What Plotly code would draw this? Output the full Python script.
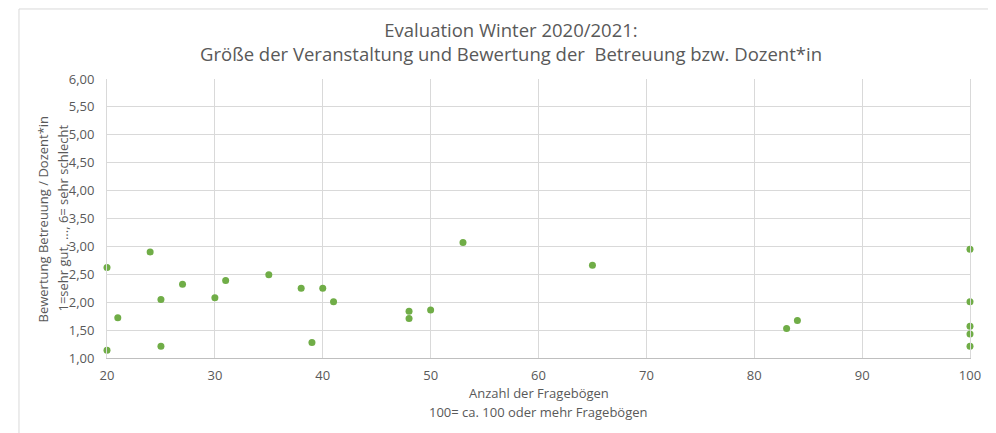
import plotly.graph_objects as go

# Anzahl der Fragebögen je Veranstaltung (100 = ca. 100 oder mehr)
anzahl_frageboegen = [20, 20, 21, 24, 25, 25, 27, 30, 31, 35, 38, 39, 40, 41,
                      48, 48, 50, 53, 65, 83, 84, 100, 100, 100, 100, 100]
# Bewertung Betreuung / Dozent*in (1 = sehr gut ... 6 = sehr schlecht)
bewertung = [2.62, 1.14, 1.72, 2.90, 2.05, 1.21, 2.32, 2.08, 2.39, 2.49, 2.25, 1.28,
             2.25, 2.01, 1.84, 1.71, 1.86, 3.07, 2.66, 1.53, 1.67, 2.95, 2.01,
             1.57, 1.43, 1.21]

x_ticks = [20, 30, 40, 50, 60, 70, 80, 90, 100]
y_ticks = [1.0, 1.5, 2.0, 2.5, 3.0, 3.5, 4.0, 4.5, 5.0, 5.5, 6.0]

title_text = ("Evaluation Winter 2020/2021:<br>"
              "Größe der Veranstaltung und Bewertung der  Betreuung bzw. Dozent*in")
x_title_lines = ["Anzahl der Fragebögen", "100= ca. 100 oder mehr Fragebögen"]
y_title_lines = ["Bewertung Betreuung / Dozent*in", "1=sehr gut, ..., 6= sehr schlecht"]

GRID = "#d9d9d9"
TEXT = "#595959"
FONT = "Open Sans"

fig = go.Figure()

fig.add_trace(
    go.Scatter(
        x=anzahl_frageboegen,
        y=bewertung,
        mode="markers",
        marker=dict(color="#70ad47", size=7),
        cliponaxis=False,
        showlegend=False,
        hovertemplate="%{x}: %{y:.2f}<extra></extra>",
    )
)

annotations = [
    dict(text=title_text, xref="paper", yref="paper", x=0.468, y=1.136,
         xanchor="center", yanchor="middle", showarrow=False,
         font=dict(size=18.5, color=TEXT)),
]
# axis titles, one annotation per line to get the wider line spacing
for line, ypos in zip(x_title_lines, [-0.1254, -0.1935]):
    annotations.append(dict(text=line, xref="paper", yref="paper", x=0.5, y=ypos,
                            xanchor="center", yanchor="middle", showarrow=False,
                            font=dict(size=13, color=TEXT)))
for line, xpos in zip(y_title_lines, [-0.0742, -0.0521]):
    annotations.append(dict(text=line, xref="paper", yref="paper", x=xpos, y=0.5,
                            xanchor="center", yanchor="middle", textangle=-90,
                            showarrow=False, font=dict(size=13, color=TEXT)))

# the page body adds an 8px offset, margins are chosen to compensate
fig.update_layout(
    width=996,
    height=433,
    margin=dict(l=99, r=34, t=71, b=83),
    paper_bgcolor="white",
    plot_bgcolor="white",
    separators=", ",
    font=dict(family=FONT, color=TEXT, size=13),
    xaxis=dict(
        range=[20, 100],
        tickvals=x_ticks,
        showgrid=True,
        gridcolor=GRID,
        showline=True,
        linecolor="#bfbfbf",
        zeroline=False,
        ticks="",
        ticklabelstandoff=5,
        tickfont=dict(size=13, color=TEXT),
    ),
    yaxis=dict(
        range=[1, 6],
        tickvals=y_ticks,
        tickformat=".2f",
        showgrid=True,
        gridcolor=GRID,
        showline=True,
        linecolor=GRID,
        mirror=True,
        zeroline=False,
        ticks="",
        ticklabelstandoff=9,
        tickfont=dict(size=13, color=TEXT),
    ),
    annotations=annotations,
    shapes=[
        dict(type="rect", xref="paper", yref="paper",
             x0=-0.102, x1=1.06, y0=-0.35, y1=1.251,
             line=dict(color=GRID, width=1), layer="below"),
    ],
)

fig.write_html("out.html")
